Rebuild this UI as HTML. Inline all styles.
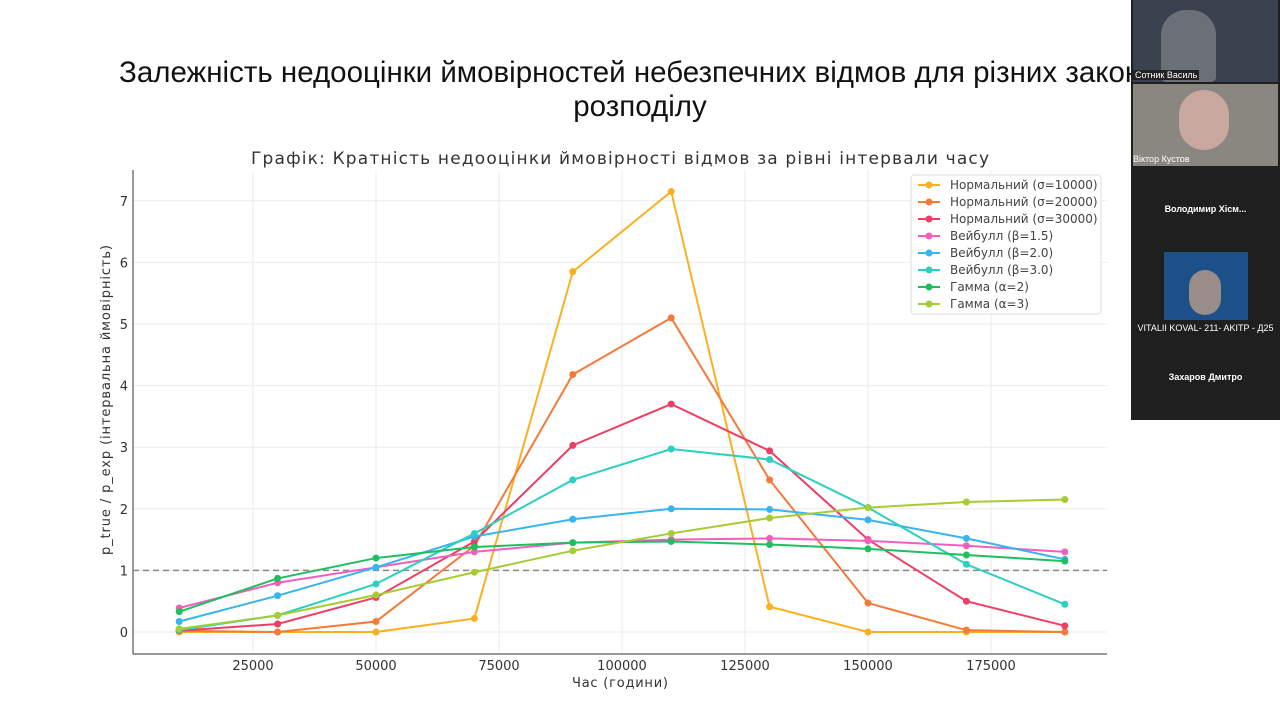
<!DOCTYPE html><html><head><meta charset="utf-8"><style>
body{margin:0;width:1280px;height:719px;background:#fff;overflow:hidden;position:relative;font-family:"Liberation Sans","DejaVu Sans",sans-serif}
.t{position:absolute;font-size:29.5px;color:#111;white-space:nowrap}
.side{position:absolute;left:1131px;top:0;width:149px;height:420px;background:#1f1f1f;z-index:5}
.v{position:absolute;left:0;width:149px;color:#fff;font-size:9px;text-align:center;font-weight:bold}
</style></head><body>
<div class="t" style="top:56px;left:119px">Залежність недооцінки ймовірностей небезпечних відмов для різних законів</div>
<div class="t" style="top:90px;left:0;width:1280px;text-align:center">розподілу</div>
<svg id="s" width="1280" height="719" style="position:absolute;left:0;top:0" font-family="DejaVu Sans, sans-serif"></svg>
<div class="side">
<div style="position:absolute;left:2px;top:0;width:145px;height:82px;background:#3a4250"></div>
<div style="position:absolute;left:30px;top:10px;width:55px;height:72px;background:#6b6f78;border-radius:25px 25px 5px 5px"></div>
<div style="position:absolute;left:2px;top:70px;font-size:9px;color:#fff;background:#222;padding:0 2px">Сотник Василь</div>
<div style="position:absolute;left:2px;top:84px;width:145px;height:82px;background:#8a8680"></div>
<div style="position:absolute;left:48px;top:90px;width:50px;height:60px;background:#c9a8a0;border-radius:25px"></div>
<div style="position:absolute;left:2px;top:154px;font-size:9px;color:#fff">Віктор  Кустов</div>
<div class="v" style="top:204px">Володимир  Хісм...</div>
<div style="position:absolute;left:33px;top:252px;width:84px;height:68px;background:#1d4f88"></div>
<div style="position:absolute;left:58px;top:270px;width:32px;height:45px;background:#9a8c88;border-radius:16px"></div>
<div class="v" style="top:323px;font-weight:normal">VITALII KOVAL- 211- AKITP - Д25</div>
<div class="v" style="top:372px">Захаров Дмитро</div>
</div>
<script>
const s=document.getElementById('s');let h='';
const X=x=>130+x*0.00492, Y=v=>632-v*61.6;
for(let v=0;v<=7;v++){h+=`<line x1="133" x2="1107" y1="${Y(v)}" y2="${Y(v)}" stroke="#ebebeb"/><text x="128" y="${Y(v)+5}" font-size="13" text-anchor="end" fill="#333">${v}</text>`}
for(let x=25000;x<=175000;x+=25000){h+=`<line y1="170" y2="654" x1="${X(x)}" x2="${X(x)}" stroke="#ebebeb"/><text x="${X(x)}" y="670" font-size="13" text-anchor="middle" fill="#333">${x}</text>`}
h+=`<line x1="133" x2="133" y1="170" y2="654" stroke="#333"/><line x1="133" x2="1107" y1="654" y2="654" stroke="#333"/>`;
h+=`<line x1="133" x2="1107" y1="${Y(1)}" y2="${Y(1)}" stroke="#888" stroke-dasharray="6,4" stroke-width="1.5"/>`;
h+=`<text x="251" y="164" font-size="17" textLength="738" fill="#333">Графік: Кратність недооцінки ймовірності відмов за рівні інтервали часу</text>`;
h+=`<text x="572" y="687" font-size="13" textLength="96" fill="#333">Час (години)</text>`;
h+=`<text transform="translate(110,555) rotate(-90)" font-size="13" textLength="310" fill="#333">p_true / p_exp (інтервальна ймовірність)</text>`;
h+=`<rect x="911" y="175" width="190" height="139" fill="#fff" stroke="#ddd" rx="3"/>`;
const S=[
["#fbb021","Нормальний (σ=10000)",[0,0,0,0.22,5.85,7.15,0.41,0,0,0]],
["#f47a3a","Нормальний (σ=20000)",[0.02,0,0.17,1.4,4.18,5.1,2.47,0.47,0.03,0]],
["#ee3e63","Нормальний (σ=30000)",[0.02,0.13,0.56,1.47,3.03,3.7,2.94,1.5,0.5,0.1]],
["#f25ec0","Вейбулл (β=1.5)",[0.39,0.8,1.05,1.3,1.45,1.5,1.52,1.48,1.4,1.3]],
["#37b5ee","Вейбулл (β=2.0)",[0.17,0.59,1.05,1.55,1.83,2.0,1.99,1.82,1.52,1.18]],
["#2bd0c0","Вейбулл (β=3.0)",[0.03,0.27,0.78,1.6,2.47,2.97,2.8,2.02,1.1,0.45]],
["#1fbf5f","Гамма (α=2)",[0.33,0.87,1.2,1.38,1.45,1.47,1.42,1.35,1.25,1.15]],
["#a5cc33","Гамма (α=3)",[0.05,0.27,0.6,0.97,1.32,1.6,1.85,2.02,2.11,2.15]]];
S.forEach(([c,n,d],i)=>{let p=d.map((v,j)=>X(10000+j*20000)+','+Y(v)).join(' ');
h+=`<polyline points="${p}" fill="none" stroke="${c}" stroke-width="2"/>`;
d.forEach((v,j)=>h+=`<circle cx="${X(10000+j*20000)}" cy="${Y(v)}" r="3.5" fill="${c}"/>`);
const ly=185+i*17;h+=`<line x1="918" x2="940" y1="${ly}" y2="${ly}" stroke="${c}" stroke-width="2"/><circle cx="929" cy="${ly}" r="3.5" fill="${c}"/><text x="950" y="${ly+4}" font-size="12" fill="#444">${n}</text>`;});
s.innerHTML=h;
</script></body></html>
